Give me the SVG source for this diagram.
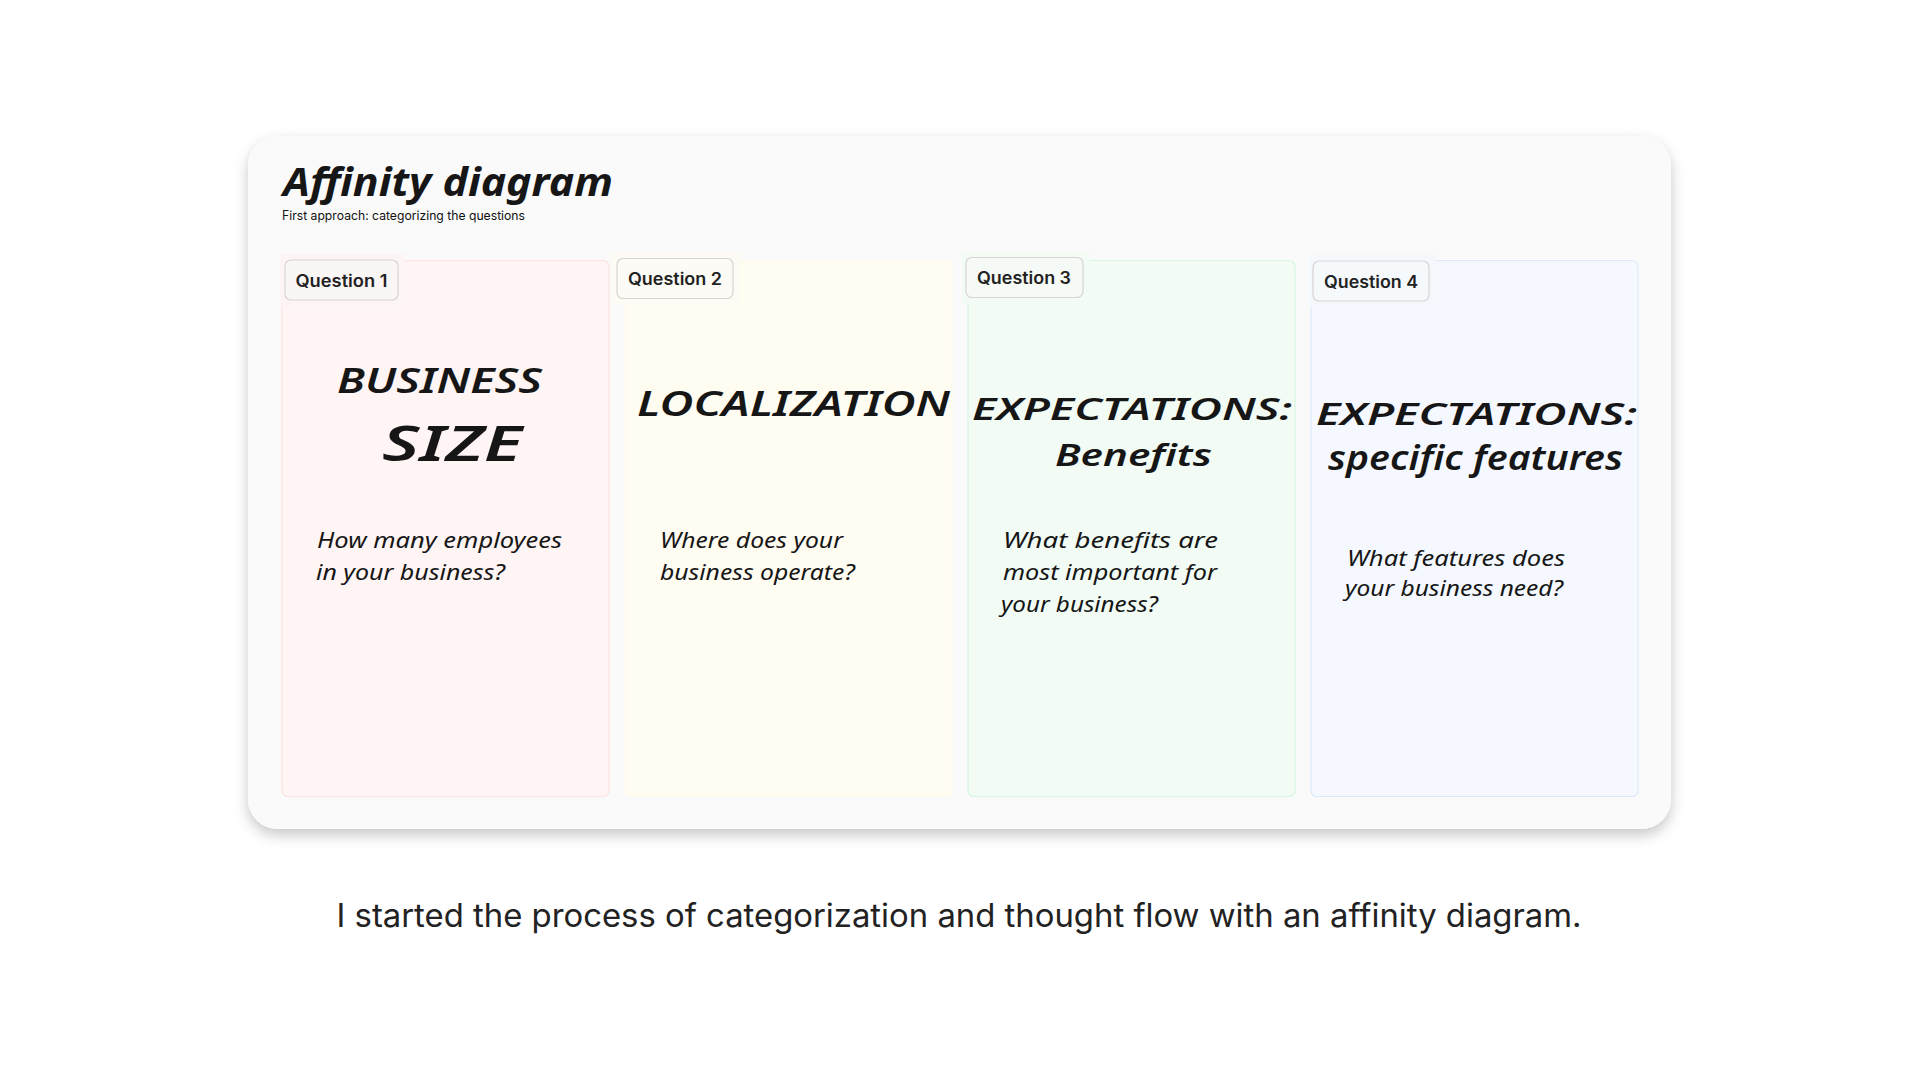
<svg xmlns="http://www.w3.org/2000/svg" width="1920" height="1080" viewBox="0 0 1920 1080">
  <style>
    .hand { font-family: "Noto Sans", "DejaVu Sans", sans-serif; font-style: italic; fill: #161616; }
    .head { font-weight: 600; }
    .q { font-size: 22px; font-weight: 400; }
    .lbl { font-family: Inter, "Liberation Sans", sans-serif; font-weight: 600; font-size: 17px; fill: #222; }
    .lblbox { stroke: #d9d4d4; stroke-width: 1.2; }
    .col { stroke-width: 1.2; }
  </style>
  <defs>
    <filter id="shadow" x="-5%" y="-5%" width="110%" height="120%">
      <feDropShadow dx="0" dy="6" stdDeviation="7" flood-color="#000" flood-opacity="0.22"/>
    </filter>
  </defs>
  <rect width="1920" height="1080" fill="#ffffff"/>

  <g id="card">
    <rect x="248" y="136" width="1423" height="693" rx="30" fill="#fafafa" filter="url(#shadow)"/>
    <text x="283" y="196" class="hand" style="font-weight:700;font-size:40px" textLength="330" lengthAdjust="spacingAndGlyphs">Affinity diagram</text>
    <text x="282" y="220" font-family="Inter, 'Liberation Sans', sans-serif" font-size="12.5" fill="#111" textLength="243" lengthAdjust="spacingAndGlyphs">First approach: categorizing the questions</text>
  </g>

  <g id="question1">
    <rect class="col" x="282" y="260.5" width="327" height="536" rx="6" fill="#fff5f5" stroke="#fde1e1"/>
    <rect x="280" y="254" width="125" height="52" fill="#fdf5f5"/>
    <rect class="lblbox" x="285" y="260" width="113" height="40" rx="6" fill="#fbf6f6"/>
    <text class="lbl" x="295.5" y="286.5" textLength="92" lengthAdjust="spacingAndGlyphs">Question 1</text>
    <text class="hand head" x="439.5" y="393" font-size="34" text-anchor="middle" textLength="205" lengthAdjust="spacingAndGlyphs">BUSINESS</text>
    <text class="hand head" x="452" y="461" font-size="48" text-anchor="middle" textLength="140" lengthAdjust="spacingAndGlyphs">SIZE</text>
    <text class="hand q" x="317" y="548" textLength="245" lengthAdjust="spacingAndGlyphs">How many employees</text>
    <text class="hand q" x="316" y="580" textLength="189" lengthAdjust="spacingAndGlyphs">in your business?</text>
  </g>

  <g id="question2">
    <rect class="col" x="625" y="260.5" width="327" height="536" rx="6" fill="#fffcf2" stroke="#fffaeb"/>
    <rect x="612" y="253" width="128" height="52" fill="#fdfbf3"/>
    <rect class="lblbox" x="617" y="258.5" width="116" height="40" rx="6" fill="#fcfbf5"/>
    <text class="lbl" x="628" y="285" textLength="94" lengthAdjust="spacingAndGlyphs">Question 2</text>
    <text class="hand head" x="793.5" y="416" font-size="34" text-anchor="middle" textLength="313" lengthAdjust="spacingAndGlyphs">LOCALIZATION</text>
    <text class="hand q" x="660" y="548" textLength="183" lengthAdjust="spacingAndGlyphs">Where does your</text>
    <text class="hand q" x="660" y="580" textLength="195" lengthAdjust="spacingAndGlyphs">business operate?</text>
  </g>

  <g id="question3">
    <rect class="col" x="968" y="260.5" width="327" height="536" rx="6" fill="#f2fcf5" stroke="#d5f5df"/>
    <rect x="962" y="252" width="128" height="52" fill="#f3fbf5"/>
    <rect class="lblbox" x="966" y="257.5" width="117" height="40" rx="6" fill="#f5faf6"/>
    <text class="lbl" x="977" y="284" textLength="94" lengthAdjust="spacingAndGlyphs">Question 3</text>
    <text class="hand head" x="1132" y="420" font-size="30" text-anchor="middle" textLength="320" lengthAdjust="spacingAndGlyphs">EXPECTATIONS:</text>
    <text class="hand head" x="1133.5" y="466" font-size="30" text-anchor="middle" textLength="157" lengthAdjust="spacingAndGlyphs">Benefits</text>
    <text class="hand q" x="1003" y="548" textLength="215" lengthAdjust="spacingAndGlyphs">What benefits are</text>
    <text class="hand q" x="1003" y="580" textLength="214" lengthAdjust="spacingAndGlyphs">most important for</text>
    <text class="hand q" x="1001" y="612" textLength="157" lengthAdjust="spacingAndGlyphs">your business?</text>
  </g>

  <g id="question4">
    <rect class="col" x="1311" y="260.5" width="327" height="536" rx="6" fill="#f5f9ff" stroke="#dbe9fb"/>
    <rect x="1309" y="255" width="128" height="52" fill="#f4f8fd"/>
    <rect class="lblbox" x="1313" y="261" width="116" height="40" rx="6" fill="#f6f9fc"/>
    <text class="lbl" x="1324" y="287.5" textLength="94" lengthAdjust="spacingAndGlyphs">Question 4</text>
    <text class="hand head" x="1476.5" y="425" font-size="30" text-anchor="middle" textLength="321" lengthAdjust="spacingAndGlyphs">EXPECTATIONS:</text>
    <text class="hand head" x="1475.5" y="470" font-size="34" text-anchor="middle" textLength="295" lengthAdjust="spacingAndGlyphs">specific features</text>
    <text class="hand q" x="1347" y="566" textLength="218" lengthAdjust="spacingAndGlyphs">What features does</text>
    <text class="hand q" x="1345" y="596" textLength="218" lengthAdjust="spacingAndGlyphs">your business need?</text>
  </g>

  <g id="connectors"></g>

  <text id="caption" x="959" y="927" text-anchor="middle" font-family="Inter, 'Liberation Sans', sans-serif" font-size="32" font-weight="400" fill="#222" textLength="1245" lengthAdjust="spacingAndGlyphs">I started the process of categorization and thought flow with an affinity diagram.</text>
</svg>
